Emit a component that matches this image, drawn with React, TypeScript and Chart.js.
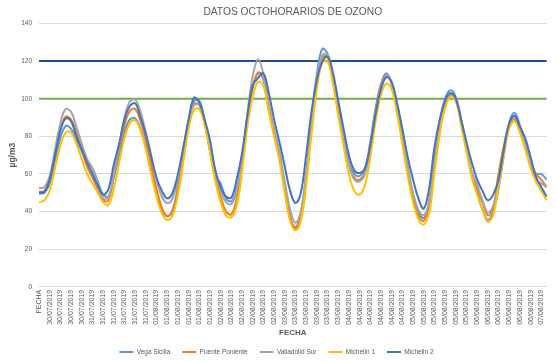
import React, { useEffect, useRef } from "react";
import { Chart, registerables } from "chart.js";

Chart.register(...registerables);

const chartTitle = "DATOS OCTOHORARIOS DE OZONO";
const xTitle = "FECHA";
const yTitle = "µg/m3";
const headerLabel = "FECHA";
const days = ["30/07/2019", "31/07/2019", "01/08/2019", "02/08/2019", "03/08/2019", "04/08/2019", "05/08/2019", "06/08/2019", "07/08/2019"];
const readingsPerDay = [9, 12, 12, 12, 12, 12, 12, 12, 2];
const categories: string[] = [headerLabel];
days.forEach((d, i) => {
  for (let k = 0; k < readingsPerDay[i]; k++) categories.push(d);
});

const seriesNames = ["Vega Sicilia", "Puente Poniente", "Valladolid Sur", "Michelin 1", "Michelin 2"];
const seriesColors = ["#5B9BD5", "#ED7D31", "#A5A5A5", "#FFC000", "#4472C4"];

const vegaSicilia = [
  49.5, 50, 55, 67, 79, 85.5, 84, 78, 72, 66, 63, 56,
  49, 48, 58, 70, 82, 89, 89.5, 84, 74, 62, 50, 41,
  37.5, 41, 53, 70, 87, 98.5, 99, 88, 72, 59, 55, 47,
  45.5, 52, 68, 90, 106, 113.5, 110, 95, 82, 70, 52, 37,
  31.5, 39, 60, 88, 113, 126.5, 124, 112, 96, 80, 66, 60,
  59, 63, 77, 95, 108, 113.5, 108, 95, 79, 63, 49, 40,
  36.5, 45, 68, 87, 100, 104.5, 101, 89, 75, 60, 50, 41,
  35.5, 40, 52, 70, 87, 92.5, 86, 77, 67, 60, 60, 57,
];
const puentePoniente = [
  50.5, 51, 57, 70, 84, 90.5, 89, 82, 73, 64, 58, 52,
  46, 46, 59, 73, 86, 93.5, 94.5, 88, 78, 65, 52, 42,
  37.5, 40, 52, 70, 88, 97, 97, 87, 73, 58, 48, 40,
  38.5, 47, 66, 90, 106, 114, 111, 97, 83, 70, 53, 37,
  31, 38, 58, 85, 109, 122, 122, 110, 95, 79, 65, 58,
  57, 61, 75, 93, 107, 112.5, 108, 95, 79, 62, 47, 38,
  35, 43, 65, 85, 97, 101.5, 99, 87, 73, 60, 52, 45,
  38, 42, 60, 75, 86, 89, 84, 76, 67, 60, 57, 53,
];
const valladolidSur = [
  52.5, 53, 59, 73, 87, 94.5, 93, 85, 76, 68, 63, 55,
  47, 47.5, 60, 75, 90, 98.5, 99.5, 93, 82, 70, 57, 48,
  44.5, 47, 58, 73, 88, 96.5, 96.5, 88, 75, 61, 51, 45,
  44, 51, 68, 92, 112, 121, 113, 96, 84, 72, 56, 41,
  34, 40, 60, 86, 110, 123, 123.5, 112, 96, 80, 65, 57,
  56, 60, 74, 92, 106, 112.5, 108, 95, 80, 64, 50, 41,
  38, 45, 67, 86, 98, 102.5, 100, 88, 74, 61, 54, 46,
  39.5, 43, 55, 72, 86, 90, 85, 76, 66, 57, 55, 53,
];
const michelin1 = [
  45, 46, 51, 63, 75, 82, 82, 76, 68, 60, 55, 50,
  45, 43.5, 52, 66, 79, 87, 88.5, 83, 73, 60, 48, 39,
  35.5, 38, 49, 66, 84, 94, 94.5, 86, 72, 56, 45, 38,
  37, 43, 61, 85, 101, 109, 107, 93, 80, 67, 50, 35,
  30, 35, 54, 81, 105, 119, 120, 108, 91, 75, 60, 51,
  49, 54, 69, 88, 102, 108, 105, 92, 76, 59, 45, 36,
  33, 39, 60, 81, 95, 101, 99, 86, 72, 58, 49, 41,
  34.5, 38, 53, 70, 84, 88, 82, 73, 63, 56, 51, 46,
];
const michelin2 = [
  50, 50.5, 57, 70, 83, 89.5, 88, 80, 73, 66, 60, 54,
  49, 52, 65, 76, 89, 96, 97.5, 90, 81, 69, 58, 51,
  47, 50, 60, 74, 89, 100.5, 98, 89, 78, 62, 53, 48,
  47.5, 57, 71, 91, 107, 111, 113.5, 103, 89, 77, 64, 51,
  44.5, 50, 70, 93, 110, 119.5, 122.5, 114, 99, 84, 70, 62,
  60.5, 63, 75, 92, 105, 111.5, 109, 98, 84, 69, 57, 47,
  41.5, 52, 74, 89, 99, 103, 100, 89, 77, 66, 57, 51,
  46, 49, 57, 73, 87, 91, 85, 79, 69, 58.5, 53, 48,
];
const seriesValues = [vegaSicilia, puentePoniente, valladolidSur, michelin1, michelin2];

const limitValues = [120, 100];
const limitColors = ["#1F4E99", "#70AD47"];
const yTicks = { min: 0, max: 140, step: 20 };

const FONT = "'Liberation Sans', Arial, sans-serif";
const TEXT = "#595959";

export default function App() {
  const ref = useRef<HTMLCanvasElement>(null);

  useEffect(() => {
    const canvas = ref.current;
    if (!canvas) return;
    Chart.defaults.font.family = FONT;

    const legendHeightFix = {
      id: "legendHeightFix",
      afterInit(chart: any) {
        const lg = chart.legend;
        if (!lg) return;
        const orig = lg.fit.bind(lg);
        lg.fit = () => {
          orig();
          lg.height = 25.25;
        };
      },
    };

    const datasets: any[] = seriesNames.map((name, i) => ({
      label: name,
      data: seriesValues[i],
      borderColor: seriesColors[i],
      backgroundColor: seriesColors[i],
      borderWidth: 2,
      pointRadius: 0,
      tension: 0.4,
      fill: false,
      order: 5 - i,
    }));
    limitValues.forEach((v, i) => {
      datasets.push({
        label: "Límite " + v,
        data: categories.map(() => v),
        borderColor: limitColors[i],
        backgroundColor: limitColors[i],
        borderWidth: 2,
        pointRadius: 0,
        tension: 0,
        fill: false,
        order: 10 + i,
      });
    });

    const chart = new Chart(canvas, {
      type: "line",
      data: { labels: categories, datasets },
      options: {
        responsive: false,
        animation: false,
        layout: { padding: { left: 0, right: 5, top: 0, bottom: 0 } },
        plugins: {
          title: {
            display: true,
            text: chartTitle,
            color: TEXT,
            fullSize: false,
            font: { size: 10.25, weight: "normal", lineHeight: 1.2 },
            padding: { top: 6, bottom: 5.2 },
          },
          legend: {
            position: "bottom",
            labels: {
              usePointStyle: true,
              pointStyle: "line",
              pointStyleWidth: 14,
              color: TEXT,
              font: { size: 6.5 },
              padding: 12,
              filter: (item: any) => item.datasetIndex < seriesNames.length,
              sort: (a: any, b: any) => a.datasetIndex - b.datasetIndex,
            },
          },
          tooltip: { enabled: false },
        },
        scales: {
          x: {
            type: "category",
            grid: { display: false, drawTicks: false },
            border: { display: false },
            ticks: {
              autoSkip: false,
              maxRotation: 90,
              minRotation: 90,
              padding: 3,
              color: TEXT,
              font: { size: 7 },
              callback: (_v: any, i: number) => (i % 2 === 0 ? categories[i] : ""),
            },
            title: {
              display: true,
              text: xTitle,
              color: TEXT,
              font: { size: 8, weight: "bold", lineHeight: 1 },
              padding: { top: 0, bottom: 0 },
            },
            afterFit: (s: any) => {
              s.height = 50;
            },
          },
          y: {
            min: yTicks.min,
            max: yTicks.max,
            grid: { color: "#D9D9D9", lineWidth: 1, drawTicks: false },
            border: { display: false },
            ticks: {
              stepSize: yTicks.step,
              padding: 7,
              color: TEXT,
              font: { size: 6.5 },
            },
            title: {
              display: true,
              text: yTitle,
              color: TEXT,
              font: { size: 8.5, weight: "bold", lineHeight: 1 },
              padding: { top: 8, bottom: 0 },
            },
            afterFit: (s: any) => {
              s.width = 39;
            },
          },
        },
      } as any,
      plugins: [legendHeightFix],
    });

    return () => chart.destroy();
  }, []);

  return (
    <div style={{ position: "fixed", left: 0, top: 0, width: 558, height: 362, background: "#fff" }}>
      <canvas ref={ref} width={558} height={362} style={{ display: "block" }} />
    </div>
  );
}
